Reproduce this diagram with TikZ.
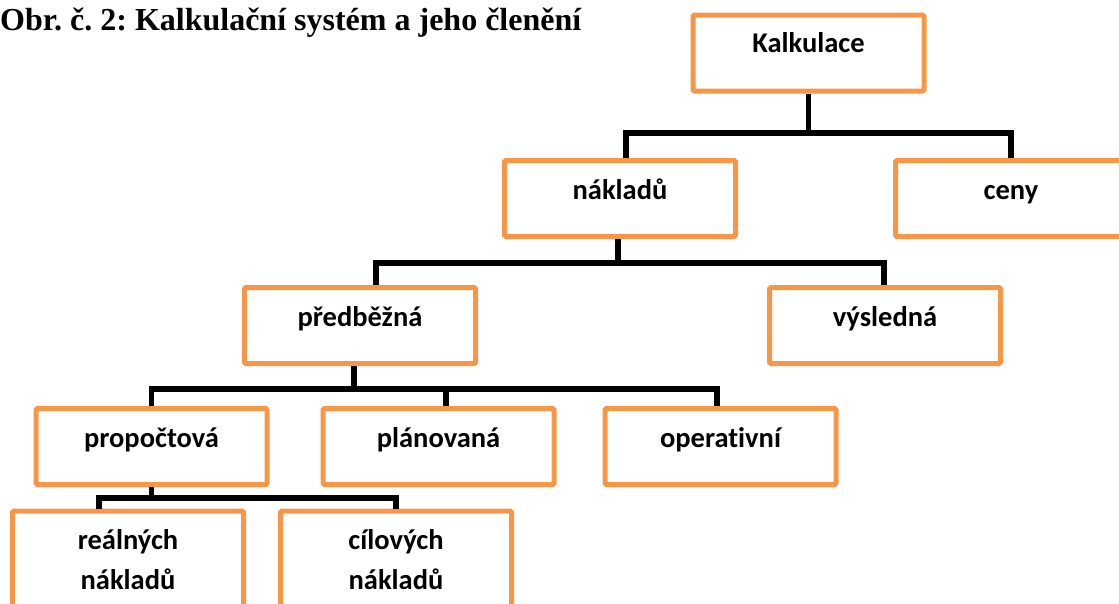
\documentclass[tikz,border=0pt]{standalone}
\usepackage{fontspec}
\setmainfont{Carlito}[Ligatures=NoCommon]
\newfontfamily\titlefont{Liberation Serif}
\definecolor{boxorange}{HTML}{F79646}
\frenchspacing
\begin{document}
\begin{tikzpicture}[x=1pt,y=-1pt,
  box/.style={draw=boxorange, line width=5pt, rounded corners=1.5pt, minimum width=231pt, minimum height=76pt, inner sep=0pt},
  tallbox/.style={box, minimum height=110pt},
  lbl/.style={anchor=base, inner sep=0pt, font=\fontsize{28.5}{34}\selectfont\bfseries},
  conn/.style={line width=5.4pt, draw=black}]
\useasboundingbox (0,0) rectangle (1119,603);
\clip (0,0) rectangle (1119,603);

\node[anchor=base west, inner sep=0pt, font=\titlefont\fontsize{32}{38}\selectfont\bfseries] (title) at (0,30) {Obr. č. 2: Kalkulační systém a jeho členění};

% boxes (centres)
\node[box] (k)  at (808.5,53)   {};
\node[box] (n)  at (620,198.5)  {};
\node[box] (c)  at (1011,198.5) {};
\node[box] (p)  at (360,325.5)  {};
\node[box] (v)  at (885,325.5)  {};
\node[box] (pr) at (151.5,446.5) {};
\node[box] (pl) at (438.5,446.5) {};
\node[box] (op) at (720.5,446.5) {};
\node[tallbox] (r)  at (128,566) {};
\node[tallbox] (ci) at (396,566) {};

% labels
\node[lbl] at ([yshift=-40pt]k.north)  {Kalkulace};
\node[lbl] at ([yshift=-41pt]n.north)  {nákladů};
\node[lbl] at ([yshift=-41pt]c.north)  {ceny};
\node[lbl] at ([yshift=-41pt]p.north)  {předběžná};
\node[lbl] at ([yshift=-41pt]v.north)  {výsledná};
\node[lbl] at ([yshift=-41pt]pr.north) {propočtová};
\node[lbl] at ([yshift=-41pt]pl.north) {plánovaná};
\node[lbl] at ([yshift=-41pt]op.north) {operativní};
\node[lbl] at ([yshift=-41pt]r.north)  {reálných};
\node[lbl] at ([yshift=-81pt]r.north)  {nákladů};
\node[lbl] at ([yshift=-41pt]ci.north) {cílových};
\node[lbl] at ([yshift=-81pt]ci.north) {nákladů};

% bar levels
\coordinate (b1) at (0,133);
\coordinate (b2) at (0,263);
\coordinate (b3) at (0,389);
\coordinate (b4) at (0,498);

% level 1
\draw[conn] (k.south) -- (k.south |- b1);
\draw[conn] ([xshift=6pt]n.north) -- ([xshift=6pt]n.north |- b1) -- (c.north |- b1) -- (c.north);
% level 2
\draw[conn] ([xshift=-2pt]n.south) -- ([xshift=-2pt]n.south |- b2);
\draw[conn] ([xshift=16pt]p.north) -- ([xshift=16pt]p.north |- b2) -- ([xshift=-1pt]v.north |- b2) -- ([xshift=-1pt]v.north);
% level 3
\draw[conn] ([xshift=-6pt]p.south) -- ([xshift=-6pt]p.south |- b3);
\draw[conn] (pr.north) -- (pr.north |- b3) -- ([xshift=-3.5pt]op.north |- b3) -- ([xshift=-3.5pt]op.north);
\draw[conn] ([xshift=7.5pt]pl.north |- b3) -- ([xshift=7.5pt]pl.north);
% level 4
\draw[conn] (pr.south) -- (pr.south |- b4);
\draw[conn] ([xshift=-29pt]r.north) -- ([xshift=-29pt]r.north |- b4) -- (ci.north |- b4) -- (ci.north);
\end{tikzpicture}
\end{document}
